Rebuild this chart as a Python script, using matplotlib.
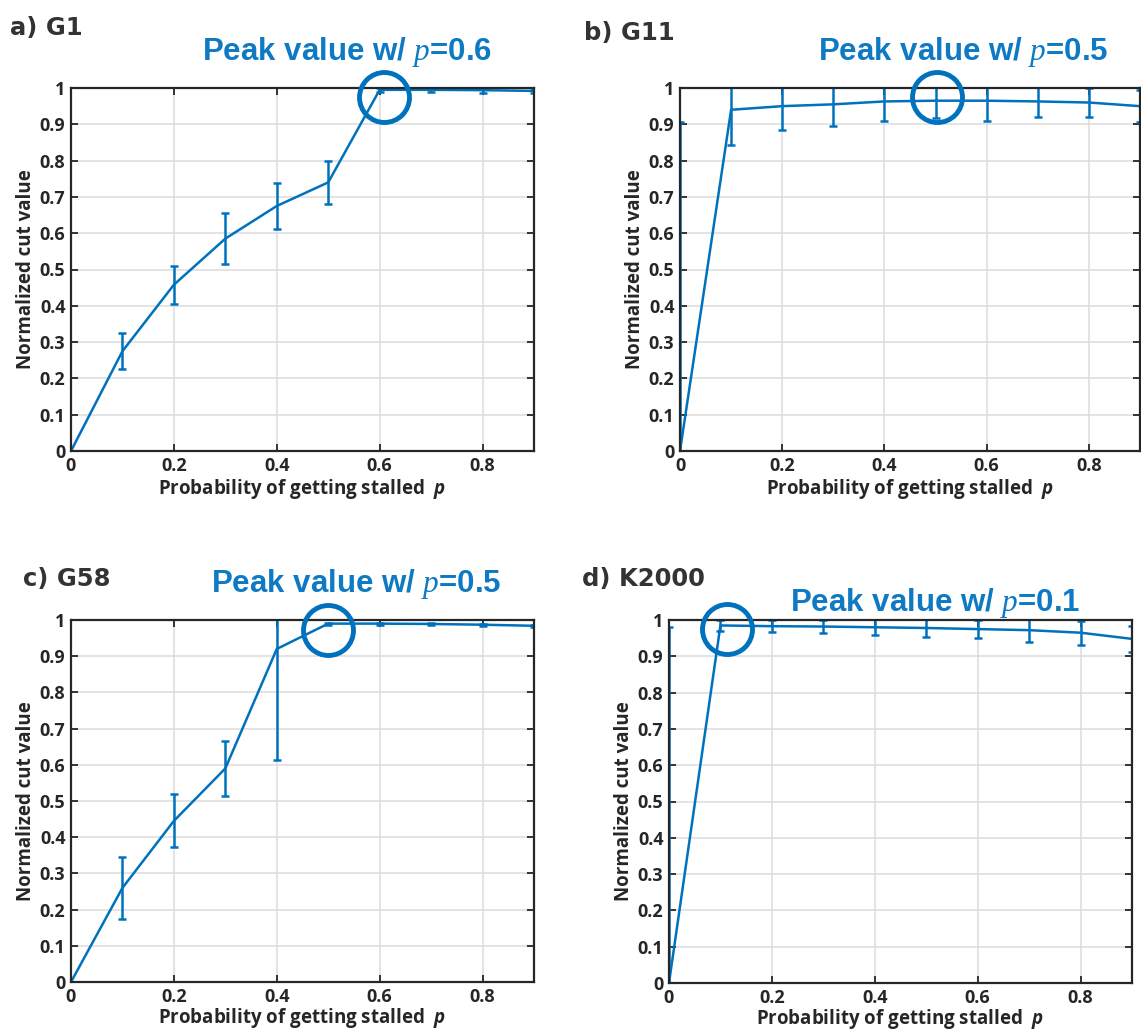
import numpy as np
import matplotlib
matplotlib.use("Agg")
import matplotlib.pyplot as plt

plt.rcParams['font.family'] = ['Open Sans', 'DejaVu Sans']
plt.rcParams['mathtext.fontset'] = 'custom'
plt.rcParams['mathtext.it'] = 'Liberation Serif:italic'
plt.rcParams['mathtext.sf'] = 'Open Sans:italic:bold'

# data
p = [0, 0.1, 0.2, 0.3, 0.4, 0.5, 0.6, 0.7, 0.8, 0.9]

g1_mean = [0, 0.275, 0.458, 0.585, 0.675, 0.74, 0.995, 0.995, 0.994, 0.992]
g1_err = [0, 0.05, 0.053, 0.07, 0.063, 0.06, 0.005, 0.007, 0.007, 0.007]

g11_mean = [0, 0.94, 0.95, 0.955, 0.963, 0.965, 0.965, 0.963, 0.96, 0.95]
g11_err = [0.905, 0.097, 0.065, 0.06, 0.053, 0.048, 0.057, 0.043, 0.04, 0.045]

g58_mean = [0, 0.26, 0.445, 0.59, 0.92, 0.99, 0.99, 0.989, 0.987, 0.984]
g58_err = [0, 0.085, 0.073, 0.075, 0.308, 0.003, 0.003, 0.003, 0.003, 0.003]

k2000_mean = [0, 0.985, 0.983, 0.982, 0.98, 0.978, 0.975, 0.972, 0.965, 0.948]
k2000_err = [0.98, 0.015, 0.017, 0.018, 0.022, 0.024, 0.025, 0.032, 0.033, 0.036]

titles = ["a) G1", "b) G11", "c) G58", "d) K2000"]
peak_labels = ["0.6", "0.5", "0.5", "0.1"]
circle_xy = [(0.608, 0.975), (0.502, 0.974), (0.5, 0.972), (0.113, 0.975)]

blue = '#0072BD'
textblue = '#0E7AC4'
dark = '#262626'

W, H = 1141, 1031
fig = plt.figure(figsize=(W / 100, H / 100), dpi=100)


def px_axes(left, right, top, bottom):
    return fig.add_axes([left / W, 1 - bottom / H, (right - left) / W, (bottom - top) / H])


boxes = [(71, 534, 88, 451), (680, 1140, 88, 451), (71, 534, 620, 982), (669, 1132, 620, 983)]
title_pos = [(10, 28), (584, 33), (23, 579), (582, 579)]
peak_pos = [(202, 52), (818, 52), (211, 584), (790, 603)]
xlabel_pad = [2, 2, 0, 0]
means = [g1_mean, g11_mean, g58_mean, k2000_mean]
errs = [g1_err, g11_err, g58_err, k2000_err]

for i in range(4):
    ax = px_axes(*boxes[i])
    ax.errorbar(p, means[i], yerr=errs[i], color=blue, lw=1.8, elinewidth=1.8,
                capsize=3, capthick=1.8)
    ax.set_xlim(0, 0.9)
    ax.set_ylim(0, 1)
    ax.set_xticks([0, 0.2, 0.4, 0.6, 0.8])
    ax.set_xticklabels(['0', '0.2', '0.4', '0.6', '0.8'])
    yt = np.round(np.arange(0, 1.01, 0.1), 1)
    ax.set_yticks(yt)
    ax.set_yticklabels(['0'] + ['%.1f' % v for v in yt[1:-1]] + ['1'])
    ax.grid(True, color='#dcdcdc', lw=1.1)
    ax.set_axisbelow(True)
    ax.tick_params(direction='in', length=5, width=1.3, top=True, right=True,
                   labelsize=13, colors=dark, pad=4)
    for lab in ax.get_xticklabels() + ax.get_yticklabels():
        lab.set_fontweight('bold')
    for s in ax.spines.values():
        s.set_color(dark)
        s.set_linewidth(1.6)
    ax.set_ylabel('Normalized cut value', fontsize=13.5, fontweight='bold', color=dark, labelpad=3)
    ax.set_xlabel('Probability of getting stalled  $\\mathsf{p}$', fontsize=13.5,
                  fontweight='bold', color=dark, labelpad=xlabel_pad[i])
    cx, cy = circle_xy[i]
    ax.plot([cx], [cy], 'o', ms=36, mfc='none', mec=blue, mew=3.5, clip_on=False, zorder=5)

    fig.text(title_pos[i][0] / W, 1 - title_pos[i][1] / H, titles[i], fontsize=17.5,
             fontweight='bold', color='#333333', ha='left', va='center',
             family='DejaVu Sans')
    fig.text(peak_pos[i][0] / W, 1 - peak_pos[i][1] / H,
             'Peak value w/ $\\mathit{p}$=' + peak_labels[i], fontsize=22.5,
             fontweight='bold', color=textblue, ha='left', va='center',
             family=['Liberation Sans', 'DejaVu Sans'])

fig.savefig('out.png', dpi=100, facecolor='white')
